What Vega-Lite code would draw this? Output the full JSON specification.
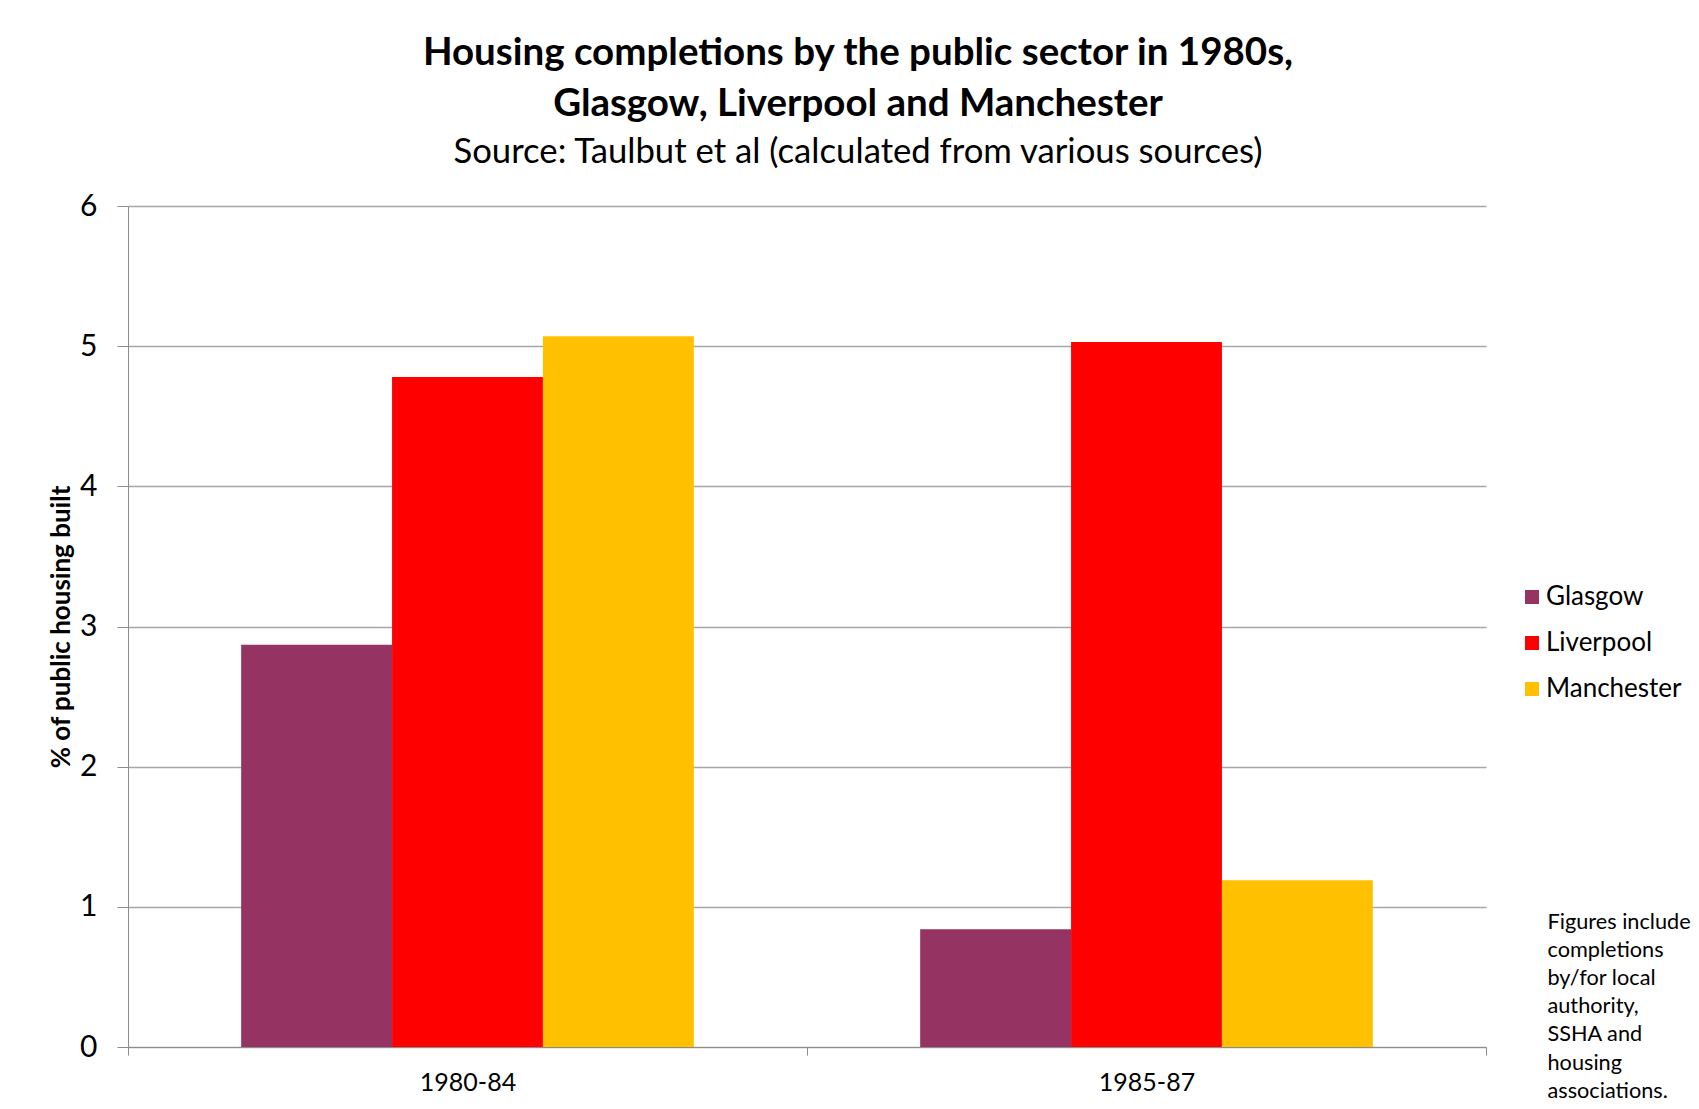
{
  "$schema": "https://vega.github.io/schema/vega-lite/v6.json",
  "width": 1358,
  "height": 841,
  "autosize": {"type": "none"},
  "padding": {"left": 128, "top": 206, "right": 213, "bottom": 62},
  "background": "white",
  "config": {
    "font": "Lato, sans-serif",
    "view": {"stroke": null}
  },
  "title": {
    "text": ["Housing completions by the public sector in 1980s,", "Glasgow, Liverpool and Manchester"],
    "subtitle": "Source: Taulbut et al (calculated from various sources)",
    "fontSize": 38.5,
    "fontWeight": "bold",
    "lineHeight": 51,
    "color": "#000000",
    "subtitleFontSize": 34.7,
    "subtitleColor": "#000000",
    "subtitlePadding": 12,
    "anchor": "middle",
    "dx": 51,
    "offset": 20
  },
  "data": {
    "values": [
      {"period": "1980-84", "city": "Glasgow", "pct": 2.87},
      {"period": "1980-84", "city": "Liverpool", "pct": 4.78},
      {"period": "1980-84", "city": "Manchester", "pct": 5.07},
      {"period": "1985-87", "city": "Glasgow", "pct": 0.84},
      {"period": "1985-87", "city": "Liverpool", "pct": 5.03},
      {"period": "1985-87", "city": "Manchester", "pct": 1.19}
    ]
  },
  "mark": {"type": "bar"},
  "encoding": {
    "x": {
      "field": "period",
      "type": "nominal",
      "scale": {"paddingInner": 0, "paddingOuter": 0},
      "axis": {
        "title": ["Figures include", "completions", "by/for local", "authority,", "SSHA and", "housing", "associations."],
        "titleX": 1419,
        "titleY": -136,
        "titleAlign": "left",
        "titleAnchor": "start",
        "titleAngle": 0,
        "titleBaseline": "top",
        "titleFontSize": 21.7,
        "titleFontWeight": "normal",
        "titleLineHeight": 28.2,
        "titleColor": "#000000",
        "labelAngle": 0,
        "labelFontSize": 25,
        "labelColor": "#000000",
        "labelPadding": 15,
        "tickBand": "extent",
        "tickSize": 8,
        "tickColor": "#8c8c8c",
        "domainColor": "#8c8c8c",
        "grid": false
      }
    },
    "xOffset": {"field": "city", "type": "nominal", "scale": {"paddingInner": 0, "paddingOuter": 0.75}},
    "y": {
      "field": "pct",
      "type": "quantitative",
      "scale": {"domain": [0, 6]},
      "axis": {
        "title": "% of public housing built",
        "titleFontSize": 26,
        "titleFontWeight": "bold",
        "titleColor": "#000000",
        "titlePadding": 5,
        "values": [0, 1, 2, 3, 4, 5, 6],
        "labelFontSize": 30,
        "labelColor": "#000000",
        "labelPadding": 20,
        "tickSize": 11,
        "tickColor": "#8c8c8c",
        "domainColor": "#8c8c8c",
        "gridColor": "#a6a6a6",
        "gridWidth": 1.3
      }
    },
    "color": {
      "field": "city",
      "type": "nominal",
      "scale": {"domain": ["Glasgow", "Liverpool", "Manchester"], "range": ["#953462", "#ff0000", "#ffc000"]},
      "legend": {
        "title": null,
        "orient": "none",
        "legendX": 1391,
        "legendY": 378,
        "padding": 0,
        "symbolType": "square",
        "symbolSize": 196,
        "symbolStrokeWidth": 0,
        "labelFontSize": 26,
        "labelColor": "#000000",
        "labelOffset": 1,
        "rowPadding": 20
      }
    }
  }
}
